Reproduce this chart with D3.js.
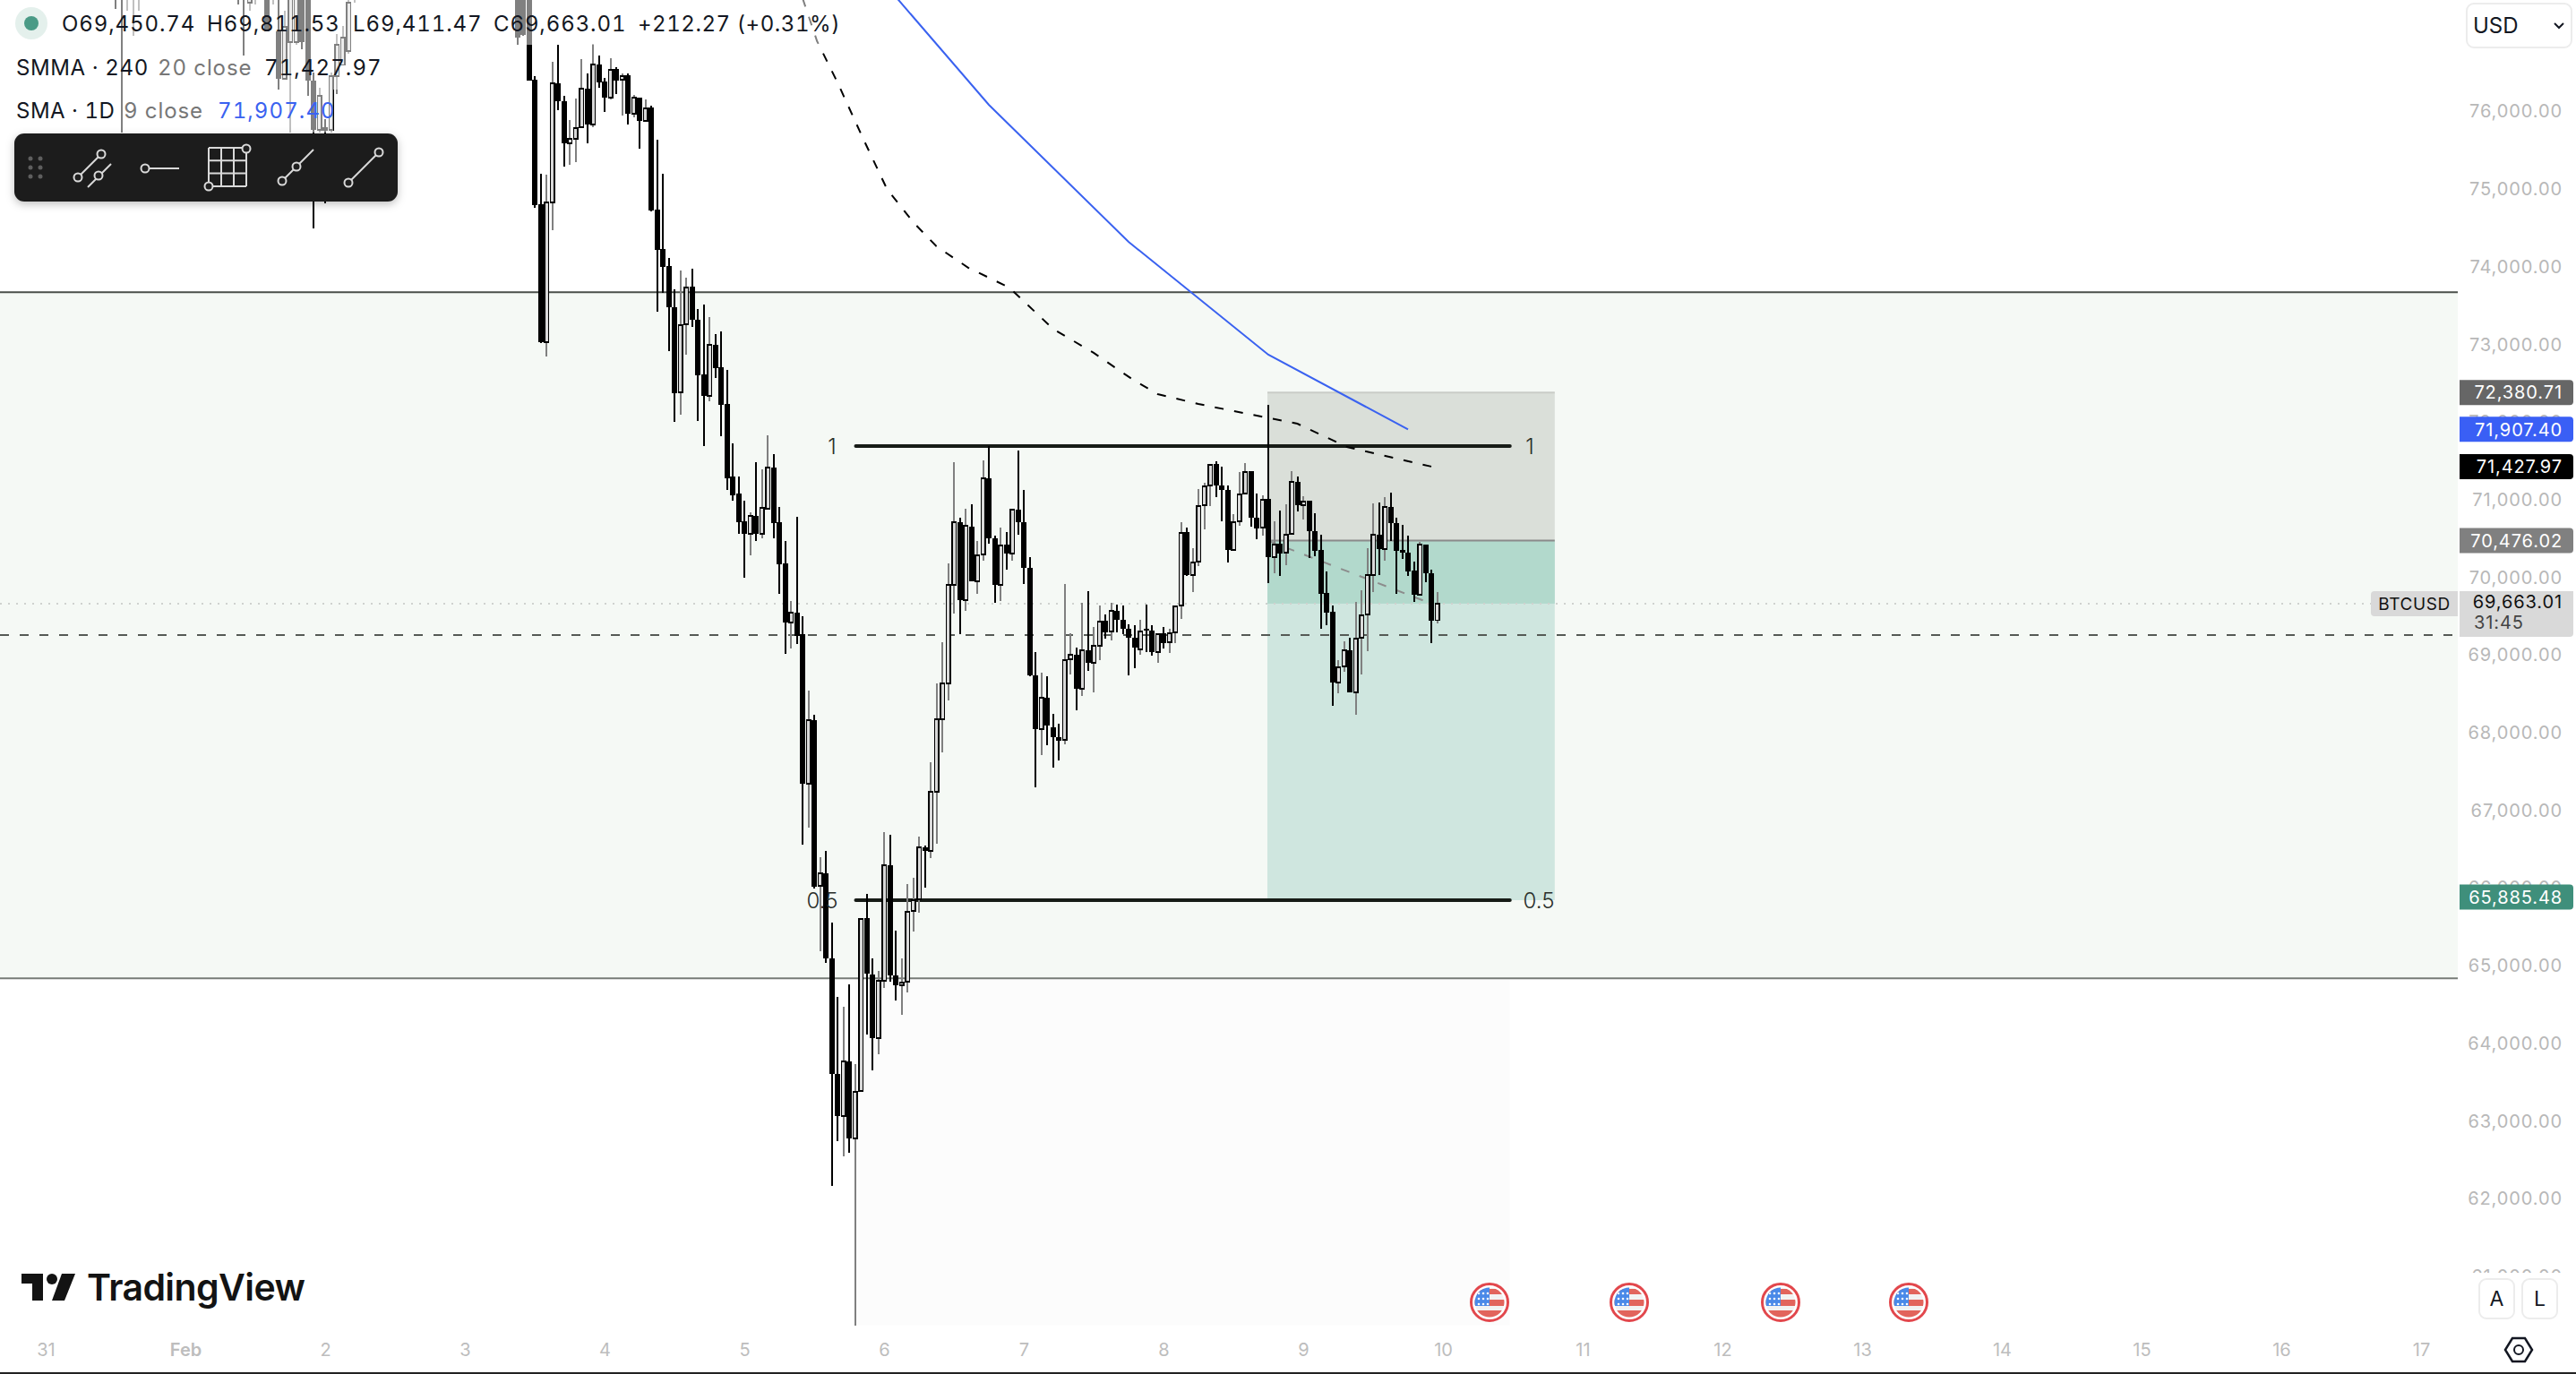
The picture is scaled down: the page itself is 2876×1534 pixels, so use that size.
<!DOCTYPE html>
<html><head><meta charset="utf-8">
<script src="https://cdn.jsdelivr.net/npm/d3@7/dist/d3.min.js"></script>
<style>
html,body{margin:0;padding:0;background:#fff;overflow:hidden}
svg{display:block}
text{font-family:Inter,"Noto Sans",sans-serif}
</style></head><body>
<svg id="c" width="2876" height="1534"></svg>
<script>
// ---------- data (1h BTCUSD candles, hours counted from 31 Jan 00:00) ----------
const hours=[12,13,14,15,16,33,34,35,36,38,39,40,41,42,43,44,45,46,47,48,49,50,51,52,53,81,82,83,
84,85,86,87,88,89,90,91,92,93,94,95,96,97,98,99,100,101,102,103,104,105,106,107,108,109,110,111,112,113,
114,115,116,117,118,119,120,121,122,123,124,125,126,127,128,129,130,131,132,133,134,135,136,137,138,139,140,141,142,143,
144,145,146,147,148,149,150,151,152,153,154,155,156,157,158,159,160,161,162,163,164,165,166,167,168,169,170,171,172,173,
174,175,176,177,178,179,180,181,182,183,184,185,186,187,188,189,190,191,192,193,194,195,196,197,198,199,200,201,202,203,
204,205,206,207,208,209,210,211,212,213,214,215,216,217,218,219,220,221,222,223,224,225,226,227,228,229,230,231,232,233,
234,235,236,237,238,239];
const opens=[77900,77800,77520,77600,77500,77900,77800,77401,77500,77600,77500,77032,76421,76894,76894,77600,77500,76398,75764,75800,75764,76456,76600,76779,77500,78000,77900,77700,
76410,74806,73030,74829,76363,76133,75591,75648,75798,76294,
75833,76606,76386,76179,76548,76410,76467,75971,76179,75879,
76052,74737,74230,74010,73480,72384,73261,73745,73318,72615,
72338,72995,72707,72234,71300,71081,70723,70562,70792,70562,
70885,71415,70712,70181,69420,69547,69270,67344,68163,66029,
66190,65095,63607,63065,63768,62776,63388,65614,64887,64068,
64806,66294,64875,64749,64795,65706,65856,66525,66479,67240,
68174,68636,69904,70712,69708,70654,69950,70296,71277,70504,
69904,70423,70308,70873,70712,70123,68739,68047,68451,68070,
67944,67909,68947,69005,68566,69062,68901,69120,69443,69305,
69570,69454,69339,69224,69074,69339,69316,69039,69281,69166,
69293,69639,70585,70031,70204,70931,71185,71461,71185,71127,
70354,70723,71081,71369,70769,70642,71012,70262,70435,70320,
70562,71231,70931,70989,70596,70354,69800,69558,68647,68855,
69062,68520,69224,69524,70031,70550,70366,70908,70700,70354,
70320,70089,69777,70423,70054,69450.74];
const highs=[78100,78000,77900,78000,77900,78100,78000,77900,77800,77900,77800,77500,77300,77600,77600,77800,77700,76500,76300,75900,76500,77000,77100,77500,77800,78200,78100,77900,
76456,75198,75187,76640,76859,76202,75890,76167,76675,76490,
76871,76721,76433,76686,76571,76490,76490,76213,76179,76156,
76075,75637,75198,74114,73711,73953,73860,73976,73457,73514,
73353,73134,73168,72673,71727,71300,70989,70839,71484,71392,
71830,71588,70908,70469,69697,70781,69501,68543,68232,66398,
66479,65556,64599,64472,64760,63734,65614,65925,65095,64933,
66721,66686,65452,65095,66052,66133,66663,66548,67621,68636,
69166,70181,71484,70769,70885,70942,70469,71507,71692,70539,
70642,70585,70885,71634,71127,70262,69039,68774,68728,68243,
68117,69916,69281,69097,69674,69824,69362,69639,69524,69674,
69651,69639,69397,69385,69454,69651,69385,69281,69362,69339,
69628,70712,70642,70377,71138,71219,71450,71496,71427,71185,
70815,71358,71473,71369,71081,71058,72223,70723,70862,70942,
71369,71300,71046,70989,70827,70550,70077,69639,68935,69178,
69224,69685,69835,70377,70954,70965,71035,71092,70769,70677,
70539,70204,70458,70423,70100,69811.53];
const lows=[77321,75729,77298,76975,77298,77378,76721,77298,77378,77032,77378,76283,76421,75729,76859,76800,76202,74495,75729,74818,75729,76225,76600,76744,77401,76859,76975,76398,
74760,73018,72846,74472,76017,75291,75314,75348,75798,75591,
75798,76306,75994,76156,76225,75948,75833,75925,75521,75879,
74714,73422,73664,72915,72004,72096,72869,73226,72015,71692,
72269,72569,71819,71127,70989,70562,69997,70285,70469,70504,
70885,70504,69789,69016,69085,69143,66559,66779,65994,65187,
65037,62165,62742,62546,62592,60366,63388,64114,63653,63860,
64714,64795,64552,64368,64656,65441,65683,66006,66386,66571,
67747,68416,69535,69270,69570,69950,69789,70216,70435,69674,
69697,70100,70216,70550,69916,68728,67298,67713,67840,67551,
67644,67851,68751,68290,68474,68797,68520,68935,69212,69189,
69293,69270,68739,68832,69005,69039,68993,68901,69085,69028,
69155,69466,70020,69812,70147,70619,70919,71035,70723,70193,
70354,70666,71069,70654,70493,70539,69927,70054,70020,70158,
70562,70850,70746,70250,70273,69339,69385,68347,68509,68785,
68520,68232,68751,69051,69812,70031,70216,70469,69789,70239,
70020,69685,69777,69939,69155,69411.47];
const closes=[77500,77600,77800,77900,77700,77500,77550,77700,77700,77032,77650,76421,77090,77500,77500,76894,76398,75764,76202,75752,76456,76859,76950,77400,77600,76950,76990,76398,
74795,73030,74829,76363,76133,75591,75648,75787,76294,75833,
76606,76375,76179,76536,76398,76456,75971,76179,75879,76040,
74725,74218,73999,73480,72373,73249,73734,73318,72603,72338,
72995,72696,72223,71277,71058,70712,70562,70792,70562,70896,
71415,70700,70170,69420,69547,69247,67344,68163,66017,66190,
65095,63607,63065,63768,62776,63376,65602,64899,64068,64806,
66294,64875,64749,64783,65694,65844,66525,66479,67240,68174,
68636,69904,70712,69708,70666,69950,70285,71277,70504,69904,
70412,70308,70873,70712,70123,68739,68047,68451,68093,67944,
67897,68935,69005,68566,69062,68901,69120,69431,69293,69570,
69454,69339,69224,69097,69305,69316,69039,69270,69155,69281,
69628,70573,70031,70193,70919,71173,71450,71185,71127,70354,
70712,71069,71358,70769,70631,71000,70262,70423,70308,70550,
71231,70931,70977,70596,70343,69789,69547,68647,68843,69062,
68520,69212,69512,70031,70550,70366,70908,70700,70343,70320,
70077,69777,70423,70054,69443,69663.01];
const smmaHours=[130,132.5,136,140.5,144.5,149,153,158.5,165.5,173,180,187,191,198,206.5,215,223.5,238];
const smmaValues=[77460,76905,76375,75637,75002,74576,74264,73987,73734,73203,72892,72534,72361,72234,72107,71980,71680,71427.97];
const smaHours=[138,162,186,210,234];
const smaValues=[78174,76087,74322,72869,71907.40];
const dayTicks=[0,24,48,72,96,120,144,168,192,216,240,264,288,312,336,360,384,408];
const dayLabels=["31","Feb","2","3","4","5","6","7","8","9","10","11","12","13","14","15","16","17"];
const priceTicks=[76000,75000,74000,73000,72000,71000,70000,69000,68000,67000,66000,65000,64000,63000,62000,61000];
const eventHours=[248,272,298,320];
const bandTop=73673, bandBottom=64837, alertLine=69258, last=69663.01;
const entry=70476.02, stop=72380.71, target=65885.48, smmaLast=71427.97, smaLast=71907.40;
const fibHigh=71692, fibMid=65844, fibFloor=60366, fibStartHour=139, fibEndHour=251.5;
const posStartHour=209.85, posEndHour=259.2, posBarHour=238;

// ---------- scales ----------
const x=d3.scaleLinear().domain([0,24]).range([51,207]);
const y=d3.scaleLinear().domain([76000,61000]).range([124.5,1425]);
const paneR=2744;
const svg=d3.select("#c");
const fmt=d3.format(",.2f");
const defs=svg.append("defs");
defs.append("clipPath").attr("id","pane").append("rect").attr("x",0).attr("y",0).attr("width",paneR).attr("height",1532);
const shadow=defs.append("filter").attr("id","sh").attr("x","-10%").attr("y","-20%").attr("width","120%").attr("height","150%");
shadow.append("feDropShadow").attr("dx",0).attr("dy",3).attr("stdDeviation",5).attr("flood-color","#000").attr("flood-opacity",.25);

svg.append("rect").attr("width",2876).attr("height",1534).attr("fill","#fff");
const pane=svg.append("g").attr("clip-path","url(#pane)");

// band
pane.append("rect").attr("x",0).attr("width",paneR).attr("y",y(bandTop)).attr("height",y(bandBottom)-y(bandTop)).attr("fill","#f5f9f5");
pane.append("line").attr("x1",0).attr("x2",paneR).attr("y1",y(bandTop)).attr("y2",y(bandTop)).attr("stroke","#4a4f4a").attr("stroke-width",2);
// fib rect (only the part under the band shows as a tint)
pane.append("rect").attr("x",x(fibStartHour)).attr("width",x(fibEndHour)-x(fibStartHour)).attr("y",y(bandBottom)).attr("height",y(fibFloor)-y(bandBottom)).attr("fill","#000").attr("fill-opacity",.01);
pane.append("line").attr("x1",0).attr("x2",paneR).attr("y1",y(bandBottom)).attr("y2",y(bandBottom)).attr("stroke","#777c77").attr("stroke-width",2);
// position
const px0=x(posStartHour), px1=x(posEndHour);
pane.append("rect").attr("x",px0).attr("width",px1-px0).attr("y",y(stop)).attr("height",y(entry)-y(stop)).attr("fill","#dadfd9");
pane.append("rect").attr("x",px0).attr("width",px1-px0).attr("y",y(entry)).attr("height",y(fibMid)-y(entry)).attr("fill","#cfe6df");
pane.append("rect").attr("x",px0).attr("width",px1-px0).attr("y",y(entry)).attr("height",y(last)-y(entry)).attr("fill","#b2d9cc");
pane.append("line").attr("x1",px0).attr("x2",px1).attr("y1",y(stop)).attr("y2",y(stop)).attr("stroke","#c9ccc7").attr("stroke-width",2);
pane.append("line").attr("x1",px0).attr("x2",px1).attr("y1",y(entry)).attr("y2",y(entry)).attr("stroke","#8a8a8a").attr("stroke-width",2);
pane.append("line").attr("x1",px0).attr("x2",x(posBarHour)).attr("y1",y(entry)).attr("y2",y(last)).attr("stroke","#8c8c8c").attr("stroke-width",2).attr("stroke-dasharray","10 12");
// price lines
pane.append("line").attr("x1",0).attr("x2",paneR).attr("y1",y(last)).attr("y2",y(last)).attr("stroke","#cfd2cf").attr("stroke-width",2).attr("stroke-dasharray","2 7");
pane.append("line").attr("x1",0).attr("x2",paneR).attr("y1",y(alertLine)).attr("y2",y(alertLine)).attr("stroke","#555a55").attr("stroke-width",2).attr("stroke-dasharray","10 12");
// fib levels
[fibHigh,fibMid].forEach(v=>{
  pane.append("line").attr("x1",x(fibStartHour)+1).attr("x2",x(fibEndHour)).attr("y1",y(v)).attr("y2",y(v)).attr("stroke","#171c17").attr("stroke-width",4).attr("stroke-linecap","round");
});

// candles
const candles=hours.map((h,i)=>({h,o:opens[i],c:closes[i],hi:highs[i],lo:lows[i],up:closes[i]>=opens[i]}));
const cg=pane.append("g").attr("shape-rendering","crispEdges");
cg.selectAll("line").data(candles).join("line")
  .attr("x1",d=>x(d.h)).attr("x2",d=>x(d.h)).attr("y1",d=>y(d.hi)).attr("y2",d=>y(d.lo))
  .attr("stroke",d=>d.up?"#808080":"#000").attr("stroke-width",2);
cg.selectAll("rect").data(candles).join("rect")
  .attr("x",d=>d.up?x(d.h)-2.25:x(d.h)-3)
  .attr("width",d=>d.up?4.5:6)
  .attr("y",d=>y(Math.max(d.o,d.c)))
  .attr("height",d=>Math.max(2,Math.abs(y(d.o)-y(d.c))))
  .attr("fill",d=>d.up?"#d9d9d9":"#000")
  .attr("stroke",d=>d.up?"#000":"none").attr("stroke-width",1.5);

// moving averages
const line=d3.line();
pane.append("path").attr("d",line(smmaHours.map((h,i)=>[x(h),y(smmaValues[i])]))).attr("fill","none").attr("stroke","#000").attr("stroke-width",2).attr("stroke-dasharray","10 12");
pane.append("path").attr("d",line(smaHours.map((h,i)=>[x(h),y(smaValues[i])]))).attr("fill","none").attr("stroke","#3a62f0").attr("stroke-width",2);

// fib texts
const fibText=(tx,v,s)=>pane.append("text").attr("x",tx).attr("y",y(v)).attr("dy","0.36em").attr("text-anchor","middle").attr("font-size",24).attr("font-weight",300).attr("fill","#2a2e2a").text(s);
fibText(929,fibHigh,"1");fibText(1708,fibHigh,"1");fibText(918,fibMid,"0.5");fibText(1718,fibMid,"0.5");

// legend backdrops
[[0,0,945,50],[0,50,425,50],[0,100,372,48]].forEach(r=>pane.append("rect").attr("x",r[0]).attr("y",r[1]).attr("width",r[2]).attr("height",r[3]).attr("fill","#fff").attr("fill-opacity",.5));

// legend text
svg.append("ellipse").attr("cx",35).attr("cy",26).attr("rx",18).attr("ry",18).attr("fill","#e4f0ec");
svg.append("circle").attr("cx",35).attr("cy",26).attr("r",8).attr("fill","#4a9a86");
const leg=(tx,ty,s,col,ls)=>svg.append("text").attr("x",tx).attr("y",ty).attr("dy","0.36em").attr("font-size",24).attr("letter-spacing",ls).attr("style","font-variant-numeric:tabular-nums").attr("fill",col||"#131722").text(s);
leg(69,26,"O69,450.74",null,0.9);leg(231,26,"H69,811.53",null,0.9);leg(394,26,"L69,411.47",null,0.9);leg(551,26,"C69,663.01",null,0.9);leg(712,26,"+212.27 (+0.31%)",null,0.55);
leg(18,75,"SMMA · 240",null,0.6);leg(176,75,"20 close","#777",0.9);leg(295,75,"71,427.97",null,1.1);
leg(18,123,"SMA · 1D",null,0.5);leg(138,123,"9 close","#777",0.9);leg(243,123,"71,907.40","#3a62f0",1.1);

// toolbar
const tb=svg.append("g");
tb.append("rect").attr("x",16).attr("y",149).attr("width",428).attr("height",76).attr("rx",11).attr("fill","#1f1f1f").attr("filter","url(#sh)");
[34,45].forEach(a=>[177,187,197].forEach(b=>tb.append("circle").attr("cx",a).attr("cy",b).attr("r",2.5).attr("fill","#5e5e5e")));
const ic="#d9d9d9";
const seg=(a,b,c,d)=>tb.append("line").attr("x1",a).attr("y1",b).attr("x2",c).attr("y2",d).attr("stroke",ic).attr("stroke-width",2);
const dot=(a,b)=>tb.append("circle").attr("cx",a).attr("cy",b).attr("r",4.5).attr("fill","#1f1f1f").attr("stroke",ic).attr("stroke-width",2);
seg(87,198,113,172);seg(98,209,124,183);dot(87,198);dot(113,172);dot(110,196);
seg(162,188,200,188);dot(162,188);
[233,247,261,275].forEach(a=>seg(a,165,a,208));[165,179.3,193.6,208].forEach(b=>seg(233,b,275,b));dot(275,166);dot(233,208);
seg(315,202,350,167);dot(315,202);dot(331,186);
seg(389,204,423,170);dot(389,204);dot(423,170);

// logo
const logo=svg.append("g").attr("fill","#131313");
logo.append("path").attr("d","M24 1422H48V1452H36V1433H24Z");
logo.append("circle").attr("cx",58).attr("cy",1428).attr("r",6);
logo.append("path").attr("d","M69 1422H84L72 1452H58Z");
logo.append("text").attr("x",97).attr("y",1452).attr("font-size",41).attr("font-weight",600).attr("letter-spacing",-0.6).text("TradingView");

// price axis
const pa=svg.append("g").attr("transform","translate(2861,0)").call(d3.axisLeft(y).tickValues(priceTicks).tickFormat(d3.format(",.2f")).tickSize(0).tickPadding(0));
pa.select(".domain").remove();
pa.selectAll("text").attr("font-size",20).attr("letter-spacing",0.9).attr("fill","#b8b8b8").attr("font-family","Inter");
svg.append("rect").attr("x",2745).attr("y",1421).attr("width",131).attr("height",70).attr("fill","#fff");

// price labels
const tag=(v,fill,col)=>{
  const g=svg.append("g");
  g.append("path").attr("d",`M2746 ${y(v)-14}H2869a4 4 0 0 1 4 4V${y(v)+10}a4 4 0 0 1 -4 4H2746Z`).attr("fill",fill);
  g.append("text").attr("x",2861).attr("y",y(v)).attr("dy","0.36em").attr("text-anchor","end").attr("font-size",20).attr("letter-spacing",0.9).attr("fill",col).text(fmt(v));
};
tag(stop,"#666666","#fff");tag(smaLast,"#3a5ff5","#fff");tag(smmaLast,"#000","#fff");tag(entry,"#808080","#fff");tag(target,"#3f8f7b","#fff");
const ly=y(last);
svg.append("path").attr("d",`M2651 ${ly-14}H2744V${ly+14}H2651a4 4 0 0 1 -4 -4V${ly-10}a4 4 0 0 1 4 -4Z`).attr("fill","#d9d9d9");
svg.append("text").attr("x",2695.5).attr("y",ly).attr("dy","0.36em").attr("text-anchor","middle").attr("font-size",19).attr("letter-spacing",0.6).attr("fill","#111").text("BTCUSD");
svg.append("path").attr("d",`M2746 ${ly-14}H2873V${ly+33}a4 4 0 0 1 -4 4H2746Z`).attr("fill","#d9d9d9");
svg.append("text").attr("x",2861).attr("y",ly-2).attr("dy","0.36em").attr("text-anchor","end").attr("font-size",20).attr("letter-spacing",0.9).attr("fill","#111").text(fmt(last));
svg.append("text").attr("x",2762).attr("y",ly+21).attr("dy","0.36em").attr("font-size",20).attr("letter-spacing",0.9).attr("fill","#444").text("31:45");

// time axis
const ta=svg.append("g").attr("transform","translate(0,1507)").call(d3.axisBottom(x).tickValues(dayTicks).tickFormat((d,i)=>dayLabels[i]).tickSize(0).tickPadding(0));
ta.select(".domain").remove();
ta.selectAll("text").attr("font-size",20).attr("dy","0.36em").attr("y",0).attr("fill","#bdbdbd").attr("font-family","Inter")
  .attr("font-weight",(d,i)=>dayLabels[i]==="Feb"?600:400);
svg.append("rect").attr("x",0).attr("y",1532).attr("width",2876).attr("height",2).attr("fill","#222");

// event flags
eventHours.forEach((h,n)=>{
  const cx=x(h),cy=1454,id="fc"+n;
  defs.append("clipPath").attr("id",id).append("circle").attr("cx",cx).attr("cy",cy).attr("r",16.5);
  const g=svg.append("g");
  g.append("circle").attr("cx",cx).attr("cy",cy).attr("r",20.5).attr("fill","#fff").attr("stroke","#e2474c").attr("stroke-width",3);
  const f=g.append("g").attr("clip-path",`url(#${id})`);
  f.append("rect").attr("x",cx-17).attr("y",cy-17).attr("width",34).attr("height",34).attr("fill","#f2f2f2");
  f.append("rect").attr("x",cx-17).attr("y",cy-15).attr("width",34).attr("height",6).attr("fill","#e2645c");
  f.append("rect").attr("x",cx-17).attr("y",cy-3).attr("width",34).attr("height",7).attr("fill","#e2645c");
  f.append("rect").attr("x",cx-17).attr("y",cy+9).attr("width",34).attr("height",9).attr("fill","#e2645c");
  f.append("rect").attr("x",cx-17).attr("y",cy-17).attr("width",17).attr("height",21).attr("fill","#4a89e8");
  [-12,-7,-2].forEach(a=>[-10,-4,2].forEach(b=>f.append("circle").attr("cx",cx+a).attr("cy",cy+b).attr("r",1.3).attr("fill","#fff")));
});

// buttons
svg.append("rect").attr("x",2754).attr("y",4).attr("width",117).attr("height",49).attr("rx",8).attr("fill","#fff").attr("stroke","#ececec").attr("stroke-width",2);
svg.append("text").attr("x",2761).attr("y",28).attr("dy","0.36em").attr("font-size",24).attr("fill","#131722").text("USD");
svg.append("path").attr("d","M2852 26l5 5l5 -5").attr("fill","none").attr("stroke","#131722").attr("stroke-width",2);
[[2768,"A"],[2816,"L"]].forEach(b=>{
  svg.append("rect").attr("x",b[0]).attr("y",1428).attr("width",39).attr("height",44).attr("rx",8).attr("fill","#fff").attr("stroke","#ececec").attr("stroke-width",2);
  svg.append("text").attr("x",b[0]+19.5).attr("y",1450).attr("dy","0.36em").attr("text-anchor","middle").attr("font-size",23).attr("fill","#131722").text(b[1]);
});
svg.append("path").attr("d","M2805 1494H2819L2827 1507L2819 1520H2805L2797 1507Z").attr("fill","none").attr("stroke","#131722").attr("stroke-width",2.5);
svg.append("circle").attr("cx",2812).attr("cy",1507).attr("r",5).attr("fill","none").attr("stroke","#131722").attr("stroke-width",2);
</script>
</body></html>
